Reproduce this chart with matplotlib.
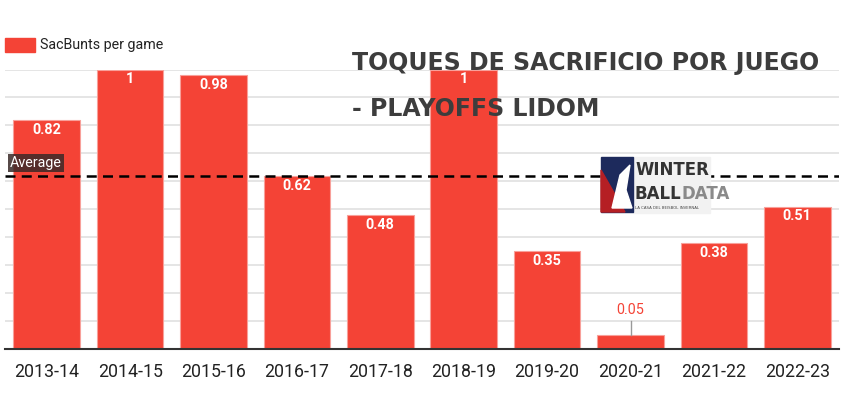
import matplotlib.pyplot as plt
from matplotlib.patches import Rectangle, Polygon
from matplotlib.text import Annotation
import numpy as np

seasons = ['2013-14', '2014-15', '2015-16', '2016-17', '2017-18',
           '2018-19', '2019-20', '2020-21', '2021-22', '2022-23']
sacbunts = [0.82, 1, 0.98, 0.62, 0.48, 1, 0.35, 0.05, 0.38, 0.51]
value_labels = ['0.82', '1', '0.98', '0.62', '0.48', '1', '0.35', '0.05', '0.38', '0.51']

bar_color = '#f44336'
avg = np.mean(sacbunts)

fig = plt.figure(figsize=(8.57, 3.97), dpi=100)
ax = fig.add_axes([5 / 857, 1 - 349.3 / 397, 834 / 857, 279.8 / 397])

x = np.arange(len(seasons))
bars = ax.bar(x, sacbunts, width=0.8, color=bar_color, edgecolor='#f8a09a',
              linewidth=0.8, zorder=2)

ax.set_xlim(-0.5, len(seasons) - 0.5)
ax.set_ylim(0, 1)
ax.set_yticks(np.arange(0, 1.01, 0.1))
ax.yaxis.grid(True, color='#e0e0e0', linewidth=1.2, zorder=0)
ax.set_yticklabels([])
ax.tick_params(axis='y', length=0)
ax.tick_params(axis='x', length=0, pad=10)
ax.set_xticks(x)
ax.set_xticklabels(seasons, fontsize=12.8, color='#222222', family='Roboto')
for s in ['top', 'right', 'left']:
    ax.spines[s].set_visible(False)
ax.spines['bottom'].set_color('#333333')
ax.spines['bottom'].set_linewidth(1.5)
ax.spines['bottom'].set_zorder(4)

for xi, v, lab in zip(x, sacbunts, value_labels):
    if v < 0.1:
        ax.plot([xi, xi], [v, v + 0.05], color='#999999', lw=1, zorder=3)
        ax.text(xi, v + 0.065, lab, ha='center', va='bottom', fontsize=10.4,
                color=bar_color, family='Roboto')
    else:
        ax.text(xi, v - 0.035, lab, ha='center', va='center', fontsize=10.4,
                color='white', family='Roboto', fontweight='bold', zorder=3)

# average line
ax.axhline(avg, color='black', linestyle=(0, (4, 2.5)), linewidth=1.8, zorder=5)
ax.text(-0.44, avg + 0.048, 'Average', ha='left', va='center', fontsize=10.3,
        color='white', family='Roboto', zorder=6,
        bbox=dict(boxstyle='square,pad=0.15', fc='#3a2a28', ec='none', alpha=0.85))

# legend
fig.patches.append(Rectangle((5 / 857, 1 - 52 / 397), 30 / 857, 14 / 397,
                             transform=fig.transFigure, color=bar_color))
fig.text(40 / 857, 1 - 45 / 397, 'SacBunts per game', fontsize=10.3,
         color='#222222', family='Roboto', va='center', ha='left')

# title
title_kw = dict(fontsize=17, color='#3d3d3d', fontweight='bold',
                family='DejaVu Sans', ha='left', va='center')
fig.text(352 / 857, 1 - 63 / 397, 'TOQUES DE SACRIFICIO POR JUEGO', **title_kw)
fig.text(352 / 857, 1 - 109 / 397, '- PLAYOFFS LIDOM', **title_kw)

# logo
lx0 = 601
fig.patches.append(Rectangle((633 / 857, 1 - 213 / 397), 77 / 857, 56 / 397,
                             transform=fig.transFigure, color='#f2f2f2', zorder=5))
fig.patches.append(Rectangle((lx0 / 857, 1 - 212 / 397), 32 / 857, 55 / 397,
                             transform=fig.transFigure, color='#1d2a5c', zorder=6))
fig.patches.append(Polygon([(lx0 / 857, 1 - 212 / 397), (lx0 / 857, 1 - 170 / 397),
                            (625 / 857, 1 - 212 / 397)],
                           transform=fig.transFigure, color='#b51f24', zorder=7))
fig.patches.append(Polygon([(612 / 857, 1 - 208 / 397), (620 / 857, 1 - 175 / 397),
                            (630 / 857, 1 - 165 / 397), (626 / 857, 1 - 190 / 397),
                            (632 / 857, 1 - 208 / 397)],
                           transform=fig.transFigure, color='white', zorder=8))
logo_kw = dict(family='DejaVu Sans', va='center', fontsize=12,
               fontweight='bold', zorder=9)
fig.text(635 / 857, 1 - 170 / 397, 'WINTER', color='#333333', ha='left', **logo_kw)
ball = fig.text(635 / 857, 1 - 194 / 397, 'BALL', color='#333333', ha='left', **logo_kw)
data_txt = Annotation('DATA', xy=(1, 0.5), xycoords=ball, ha='left', color='#8a8a8a',
                      annotation_clip=False, **logo_kw)
fig.add_artist(data_txt)
fig.text(635 / 857, 1 - 208 / 397, 'LA CASA DEL BEISBOL INVERNAL', color='#444444',
         fontsize=2.8, family='DejaVu Sans', ha='left', va='center', zorder=9)

fig.savefig('out.png', dpi=100)
